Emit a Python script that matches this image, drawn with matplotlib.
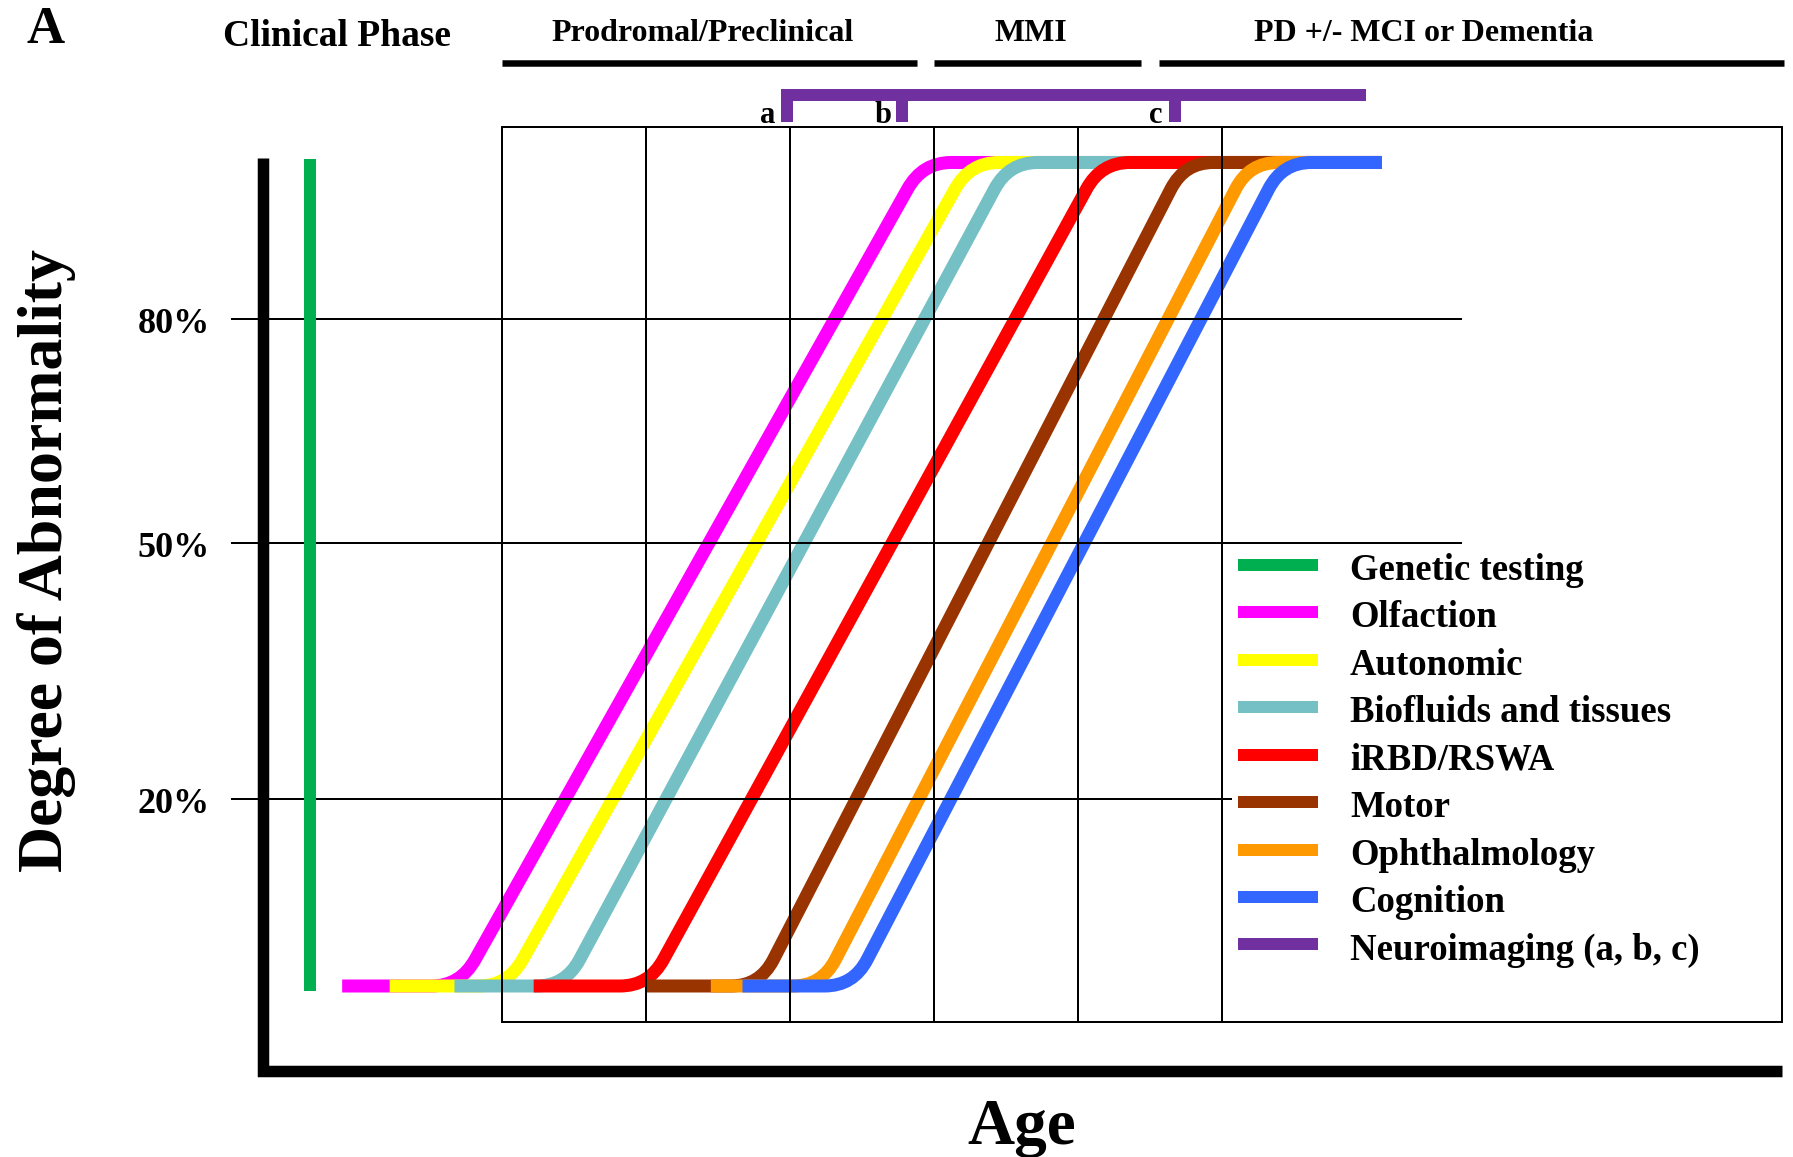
import numpy as np
import matplotlib.pyplot as plt
from matplotlib.patches import Rectangle, PathPatch
from matplotlib.path import Path

plt.rcParams['font.family'] = ['Liberation Serif', 'DejaVu Serif']
plt.rcParams['font.weight'] = 'bold'

# x: age, one grid column = 1 unit; y: degree of abnormality (0 = normal, 100 = plateau)
markers = ['Olfaction', 'Autonomic', 'Biofluids and tissues', 'iRBD/RSWA',
           'Motor', 'Ophthalmology', 'Cognition']
marker_colors = ['#FF00FF', '#FFFF00', '#74C0C4', '#FF0000',
                 '#993300', '#FF9900', '#3366FF']
flat_start = [-1.11, -0.78, -0.33, 0.22, 1.00, 1.45, 1.67]
rise_start = [-0.29, 0.04, 0.44, 1.02, 1.79, 2.22, 2.44]
rise_end = [2.92, 3.25, 3.52, 4.16, 4.74, 5.19, 5.42]
plateau_end = 6.11

genetic_x = -1.33
genetic_range = [-0.6, 100.4]

ytick_pos = [22.7, 53.8, 81.0]
ytick_labels = ['20%', '50%', '80%']

phases = ['Prodromal/Preclinical', 'MMI', 'PD +/- MCI or Dementia']
phase_start = [0.0, 3.0, 4.56]
phase_end = [2.88, 4.44, 8.90]
phase_label_x = [1.39, 3.67, 6.40]

neuro_span = [1.94, 6.0]
neuro_points = [1.98, 2.78, 4.67]
neuro_labels = ['a', 'b', 'c']

legend_labels = ['Genetic testing'] + markers + ['Neuroimaging (a, b, c)']
legend_colors = ['#00B050'] + marker_colors + ['#7030A0']

PX = 0.72  # points per pixel at dpi 100

fig = plt.figure(figsize=(17.93, 11.57), dpi=100)
ax = fig.add_axes([0, 0, 1, 1])
ax.set_xlim(-3.486, 8.965)
ax.set_ylim(-20.765, 119.73)
ax.axis('off')

# frame and grid
box_bottom, box_top, box_right = -4.37, 104.31, 8.889
ax.add_patch(Rectangle((0, box_bottom), box_right, box_top - box_bottom,
                       fill=False, lw=2 * PX, ec='black', zorder=4))
for u in range(1, 6):
    ax.plot([u, u], [box_bottom, box_top], color='black', lw=2 * PX, zorder=4)
for yv in ytick_pos:
    ax.plot([-1.875, 6.66], [yv, yv], color='black', lw=2 * PX, zorder=4)

# biomarker curves, corners rounded with quadratic beziers
flat_leg = 0.2   # x units along the flat parts
rise_leg = 3.2   # y units along the rise
for i, name in enumerate(markers):
    rs, re = rise_start[i], rise_end[i]
    dx = (re - rs) / 100 * rise_leg
    verts = [(flat_start[i], 0), (rs - flat_leg, 0), (rs, 0), (rs + dx, rise_leg),
             (re - dx, 100 - rise_leg), (re, 100), (re + flat_leg, 100),
             (plateau_end, 100)]
    codes = [Path.MOVETO, Path.LINETO, Path.CURVE3, Path.CURVE3,
             Path.LINETO, Path.CURVE3, Path.CURVE3, Path.LINETO]
    ax.add_patch(PathPatch(Path(verts, codes), fill=False, ec=marker_colors[i],
                           lw=13 * PX, capstyle='butt', zorder=3))

ax.plot([genetic_x, genetic_x], genetic_range, color=legend_colors[0],
        lw=12 * PX, solid_capstyle='butt', zorder=5)

# big L axes
ax.plot([-1.663, -1.663, box_right], [100.5, -10.32, -10.32], color='black',
        lw=11.5 * PX, solid_capstyle='butt', solid_joinstyle='miter', zorder=5)

for yv, lab in zip(ytick_pos, ytick_labels):
    ax.annotate(lab, xy=(-2.028, yv), xytext=(0, -14), textcoords='offset pixels',
                ha='right', va='baseline', fontsize=26)

ax.text(-3.163, 51.7, 'Degree of Abnormality', rotation=90, ha='center',
        va='center', fontsize=46)
ax.text(3.611, -19.13, 'Age', ha='center', va='baseline', fontsize=47)

# clinical phase header
ax.text(-3.167, 114.45, 'A', ha='center', va='baseline', fontsize=38)
ax.text(-1.146, 114.09, 'Clinical Phase', ha='center', va='baseline', fontsize=27)
for name, s, e, lx in zip(phases, phase_start, phase_end, phase_label_x):
    ax.plot([s, e], [112.1, 112.1], color='black', lw=6.5 * PX,
            solid_capstyle='butt')
    ax.text(lx, 114.75, name, ha='center', va='baseline', fontsize=23)

# neuroimaging bracket
ax.plot(neuro_span, [108.2, 108.2], color=legend_colors[-1], lw=12 * PX,
        solid_capstyle='butt')
for p, lab in zip(neuro_points, neuro_labels):
    ax.plot([p, p], [108.2, 104.92], color=legend_colors[-1], lw=12 * PX,
            solid_capstyle='butt')
    ax.annotate(lab, xy=(p, 104.92), xytext=(-19, -1), textcoords='offset pixels',
                ha='center', va='baseline', fontsize=22)

# legend
ax.add_patch(Rectangle((5.069, 2.19), 8.806 - 5.069, 53.19 - 2.19,
                       fc='white', ec='none', zorder=6))
rows = np.linspace(51.12, 5.04, len(legend_labels))
for yv, lab, c in zip(rows, legend_labels, legend_colors):
    ax.plot([5.111, 5.667], [yv, yv], color=c, lw=12 * PX,
            solid_capstyle='butt', zorder=7)
    ax.annotate(lab, xy=(5.889, yv), xytext=(0, -15), textcoords='offset pixels',
                ha='left', va='baseline', fontsize=26.5, zorder=7)

fig.savefig('out.png', dpi=100)
